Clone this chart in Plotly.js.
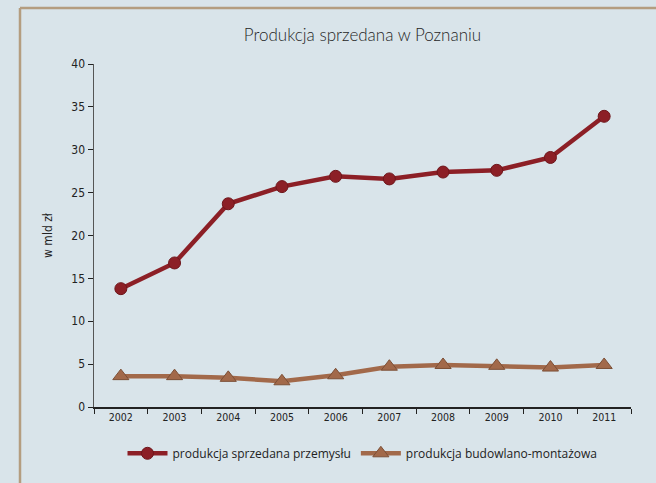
<!DOCTYPE html>
<html>
<head>
<meta charset="utf-8">
<script src="https://cdn.plot.ly/plotly-3.0.1.min.js"></script>
<style>
html,body{margin:0;padding:0;background:#d9e4ea;}
#chart{width:656px;height:483px;}
</style>
</head>
<body>
<div id="chart"></div>
<script>
var years = ['2002','2003','2004','2005','2006','2007','2008','2009','2010','2011'];
var przemyslu = [13.8, 16.8, 23.7, 25.7, 26.9, 26.6, 27.4, 27.6, 29.1, 33.9];
var budowlano = [3.6, 3.6, 3.4, 3.0, 3.7, 4.7, 4.9, 4.8, 4.6, 4.9];
var seriesNames = ['produkcja sprzedana przemysłu', 'produkcja budowlano-montażowa'];
var yTicks = [0, 5, 10, 15, 20, 25, 30, 35, 40];

var narrow = "'Liberation Sans Narrow', 'DejaVu Sans Condensed', sans-serif";

var traces = [
  {
    x: years, y: przemyslu, name: seriesNames[0], type: 'scatter', mode: 'lines+markers',
    line: {color: '#8c1f26', width: 4.5},
    marker: {color: '#8c1f26', size: 12, symbol: 'circle', line: {color: '#6e161b', width: 1}}
  },
  {
    x: years, y: budowlano, name: seriesNames[1], type: 'scatter', mode: 'lines+markers',
    line: {color: '#a2694a', width: 4.5},
    marker: {color: '#a2694a', size: 14, symbol: 'triangle-up', line: {color: '#7c4f36', width: 1}}
  }
];

var layout = {
  width: 656, height: 483,
  paper_bgcolor: '#d9e4ea', plot_bgcolor: '#d9e4ea',
  margin: {l: 94, r: 25, t: 64, b: 76},
  showlegend: true,
  title: {text: 'Produkcja sprzedana w Poznaniu', x: 0.5, xref: 'paper', xanchor: 'center', y: 0.928, yanchor: 'middle',
          font: {family: "Lato, 'Open Sans', sans-serif", size: 17, color: '#262626', weight: 300}},
  xaxis: {
    type: 'category', tickson: 'boundaries', ticks: 'outside', ticklen: 5, tickcolor: '#222',
    showline: true, linecolor: '#222', linewidth: 1.5, showgrid: false, zeroline: false,
    tickfont: {family: narrow, size: 10.5, color: '#222'}, range: [-0.5, 9.5]
  },
  yaxis: {
    range: [0, 40], tickvals: yTicks, ticks: 'outside', ticklen: 5, tickcolor: '#222',
    showline: true, linecolor: '#555', linewidth: 1.5, showgrid: false, zeroline: false,
    tickfont: {family: narrow, size: 12, color: '#222'},
    title: {text: 'w mld zł', standoff: 16, font: {family: narrow, size: 12, color: '#222'}}
  },
  legend: {orientation: 'h', x: 0.5, xanchor: 'center', y: -0.135, yanchor: 'middle', itemwidth: 40,
           font: {family: "'Open Sans', sans-serif", size: 12, color: '#222'}, bgcolor: 'rgba(0,0,0,0)'},
  shapes: [
    {type: 'line', xref: 'paper', yref: 'paper', x0: (20-94)/537, x1: (20-94)/537, y0: (407-8)/343, y1: (407-490)/343,
     line: {color: '#b49d80', width: 2.5}},
    {type: 'line', xref: 'paper', yref: 'paper', x0: (20-94)/537, x1: (670-94)/537, y0: (407-8)/343, y1: (407-8)/343,
     line: {color: '#b49d80', width: 2.5}}
  ]
};

Plotly.newPlot('chart', traces, layout, {displayModeBar: false, staticPlot: true});
</script>
</body>
</html>
